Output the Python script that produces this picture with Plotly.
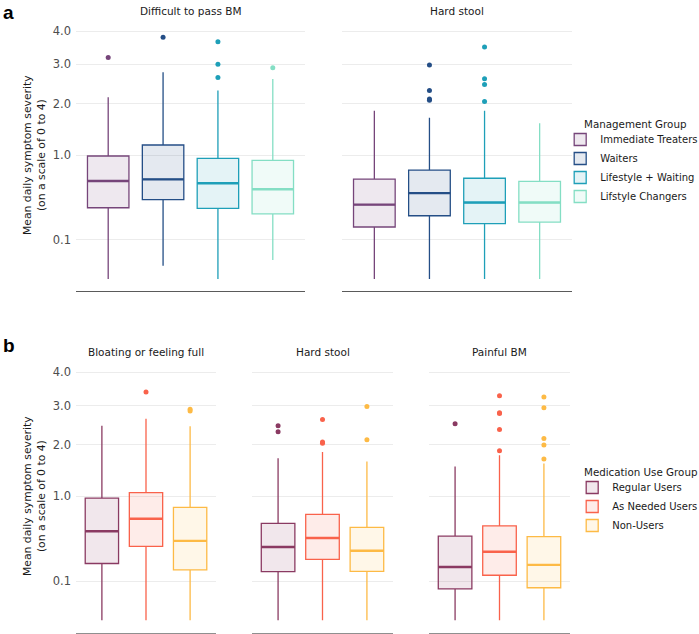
import numpy as np
import plotly.graph_objects as go

# ---------------- data ----------------
MGMT_GROUPS = ["Immediate Treaters", "Waiters", "Lifestyle + Waiting", "Lifstyle Changers"]
MED_GROUPS = ["Regular Users", "As Needed Users", "Non-Users"]

# Panel a, facet 1: Difficult to pass BM
A1_Q1 = [0.33, 0.41, 0.325, 0.275]
A1_MED = [0.624, 0.646, 0.596, 0.523]
A1_Q3 = [0.984, 1.168, 0.947, 0.916]
A1_HI = [2.15, 2.78, 2.31, 2.60]
A1_LO = [0.0, 0.0115, 0.0, 0.0235]
A1_OUT = [[3.19], [3.80], [3.66, 3.00, 2.64], [2.90]]

# Panel a, facet 2: Hard stool
A2_Q1 = [0.176, 0.26, 0.20, 0.21]
A2_MED = [0.36, 0.48, 0.38, 0.38]
A2_Q3 = [0.65, 0.77, 0.66, 0.62]
A2_HI = [1.84, 1.69, 1.84, 1.58]
A2_LO = [0.0, 0.0, 0.0, 0.0]
A2_OUT = [[], [2.98, 2.31, 2.11, 2.08], [3.50, 2.61, 2.46, 2.05], []]

# Panel b, facet 1: Bloating or feeling full
B1_Q1 = [0.21, 0.356, 0.165]
B1_MED = [0.515, 0.67, 0.41]
B1_Q3 = [0.97, 1.06, 0.83]
B1_HI = [2.46, 2.64, 2.45]
B1_LO = [0.0, 0.0, 0.0]
B1_OUT = [[], [3.39], [2.90, 2.85]]

# Panel b, facet 2: Hard stool
B2_Q1 = [0.154, 0.242, 0.156]
B2_MED = [0.35, 0.44, 0.315]
B2_Q3 = [0.61, 0.73, 0.5625]
B2_HI = [1.71, 1.84, 1.64]
B2_LO = [0.0, 0.0, 0.0]
B2_OUT = [[2.46, 2.31], [2.62, 2.07, 2.04], [2.97, 2.12]]

# Panel b, facet 3: Painful BM
B3_Q1 = [0.064, 0.132, 0.069]
B3_MED = [0.185, 0.306, 0.20]
B3_Q3 = [0.46, 0.58, 0.455]
B3_HI = [1.54, 1.77, 1.60]
B3_LO = [0.0, 0.0, 0.0]
B3_OUT = [[2.51], [3.28, 2.80, 2.78, 2.37, 1.87], [3.24, 2.94, 2.15, 2.00, 1.69]]

Y_TICKS = [0.1, 1.0, 2.0, 3.0, 4.0]
Y_TICK_LABELS = ["0.1", "1.0", "2.0", "3.0", "4.0"]

# ---------------- styling / layout ----------------
W, H = 699, 634
FONT = "DejaVu Sans"
MGMT_COLORS = ["#76457A", "#244E86", "#1E9FB8", "#84DEC4"]
MED_COLORS = ["#8A3A62", "#F9624B", "#FDBA45"]


def rgba(hex_color, a):
    h = hex_color.lstrip("#")
    r, g, b = int(h[0:2], 16), int(h[2:4], 16), int(h[4:6], 16)
    return f"rgba({r},{g},{b},{a})"


def fx(p):
    return p / W


def fy(p):
    return 1 - p / H


facets = [
    dict(title="Difficult to pass BM", x0=76, x1=305, y0=18.6, y1=291.4, groups=MGMT_GROUPS,
         colors=MGMT_COLORS, q1=A1_Q1, med=A1_MED, q3=A1_Q3, hi=A1_HI, lo=A1_LO, out=A1_OUT,
         legend="legend", first=True, linecol="#5a5a5a", linew=1.2),
    dict(title="Hard stool", x0=342, x1=572, y0=18.6, y1=291.4, groups=MGMT_GROUPS,
         colors=MGMT_COLORS, q1=A2_Q1, med=A2_MED, q3=A2_Q3, hi=A2_HI, lo=A2_LO, out=A2_OUT,
         legend="legend", first=False, linecol="#5a5a5a", linew=1.2),
    dict(title="Bloating or feeling full", x0=76, x1=216, y0=359.9, y1=632.7, groups=MED_GROUPS,
         colors=MED_COLORS, q1=B1_Q1, med=B1_MED, q3=B1_Q3, hi=B1_HI, lo=B1_LO, out=B1_OUT,
         legend="legend2", first=True, linecol="#8f8f8f", linew=1.8),
    dict(title="Hard stool", x0=252, x1=393, y0=359.9, y1=632.7, groups=MED_GROUPS,
         colors=MED_COLORS, q1=B2_Q1, med=B2_MED, q3=B2_Q3, hi=B2_HI, lo=B2_LO, out=B2_OUT,
         legend="legend2", first=False, linecol="#8f8f8f", linew=1.8),
    dict(title="Painful BM", x0=429, x1=570, y0=359.9, y1=632.7, groups=MED_GROUPS,
         colors=MED_COLORS, q1=B3_Q1, med=B3_MED, q3=B3_Q3, hi=B3_HI, lo=B3_LO, out=B3_OUT,
         legend="legend2", first=False, linecol="#8f8f8f", linew=1.8),
]

BOX_W = 0.756
X_PAD = 0.587

fig = go.Figure()
annotations = []
layout_axes = {}

for i, f in enumerate(facets):
    k = i + 1
    xa = "x" if k == 1 else f"x{k}"
    ya = "y" if k == 1 else f"y{k}"
    n = len(f["groups"])
    for j, g in enumerate(f["groups"]):
        c = f["colors"][j]
        fig.add_trace(go.Box(
            x=[j], q1=[np.sqrt(f["q1"][j])], median=[np.sqrt(f["med"][j])],
            q3=[np.sqrt(f["q3"][j])], lowerfence=[np.sqrt(f["lo"][j])],
            upperfence=[np.sqrt(f["hi"][j])],
            width=BOX_W, whiskerwidth=0, boxpoints=False,
            line=dict(color=c, width=1.3), fillcolor=rgba(c, 0.12),
            name=g, legendgroup=f["legend"] + g, showlegend=f["first"], legend=f["legend"],
            xaxis=xa, yaxis=ya, hoverinfo="skip",
        ))
        # thicker median line (ggplot fatten)
        fig.add_trace(go.Scatter(
            x=[j - BOX_W / 2, j + BOX_W / 2], y=[np.sqrt(f["med"][j])] * 2,
            mode="lines", line=dict(color=c, width=2.4), showlegend=False,
            xaxis=xa, yaxis=ya, hoverinfo="skip",
        ))
        if f["out"][j]:
            fig.add_trace(go.Scatter(
                x=[j] * len(f["out"][j]), y=np.sqrt(f["out"][j]), mode="markers",
                marker=dict(color=c, size=5), showlegend=False,
                xaxis=xa, yaxis=ya, hoverinfo="skip",
            ))
    layout_axes["xaxis" if k == 1 else f"xaxis{k}"] = dict(
        domain=[fx(f["x0"]), fx(f["x1"])], anchor=ya, range=[-X_PAD, n - 1 + X_PAD],
        showgrid=False, zeroline=False, showticklabels=False, ticks="",
        showline=True, linecolor=f["linecol"], linewidth=f["linew"],
    )
    layout_axes["yaxis" if k == 1 else f"yaxis{k}"] = dict(
        domain=[fy(f["y1"]), fy(f["y0"])], anchor=xa, range=[-0.1, 2.1],
        tickvals=list(np.sqrt(Y_TICKS)), ticktext=Y_TICK_LABELS,
        showticklabels=f["first"], ticks="", showgrid=True, gridcolor="#ECECEC", gridwidth=1,
        zeroline=False, showline=False, ticklabelstandoff=4,
        tickfont=dict(family=FONT, size=11.5, color="#4D4D4D"),
    )
    annotations.append(dict(
        text=f["title"], x=fx((f["x0"] + f["x1"]) / 2), y=fy(f["y0"] - 8),
        xref="paper", yref="paper", showarrow=False, xanchor="center", yanchor="middle",
        font=dict(family=FONT, size=10.5, color="#1A1A1A"),
    ))

for letter, ypx in [("a", 0), ("b", 333)]:
    annotations.append(dict(
        text=f"<b>{letter}</b>", x=0.002, y=fy(ypx), xref="paper", yref="paper",
        showarrow=False, xanchor="left", yanchor="top",
        font=dict(family="Liberation Sans", size=19, color="#000000"),
    ))

for ycen in [155, 496]:
    annotations.append(dict(
        text="Mean daily symptom severity<br>(on a scale of 0 to 4)",
        x=fx(34), y=fy(ycen), xref="paper", yref="paper", showarrow=False,
        xanchor="center", yanchor="middle", textangle=-90,
        font=dict(family=FONT, size=10.8, color="#1A1A1A"),
    ))

# legend titles
for title, ycen in [("Management Group", 124), ("Medication Use Group", 472)]:
    annotations.append(dict(
        text=title, x=fx(582), y=fy(ycen), xref="paper", yref="paper", showarrow=False,
        xanchor="left", yanchor="middle",
        font=dict(family=FONT, size=10.3, color="#1A1A1A"),
    ))

legend_common = dict(
    xanchor="right", x=1.006, yanchor="top", bgcolor="rgba(0,0,0,0)",
    font=dict(family=FONT, size=10, color="#1A1A1A"), itemwidth=30, tracegroupgap=0,
)

fig.update_layout(
    width=W, height=H, margin=dict(l=0, r=0, t=0, b=0, autoexpand=False),
    paper_bgcolor="white", plot_bgcolor="white",
    font=dict(family=FONT),
    boxmode="overlay",
    annotations=annotations,
    legend=dict(y=fy(125), **legend_common),
    legend2=dict(y=fy(473), **legend_common),
    **layout_axes,
)

fig.write_html("out.html", config={"displayModeBar": False},
               post_script="document.body.style.margin='0';document.body.style.padding='0';")
